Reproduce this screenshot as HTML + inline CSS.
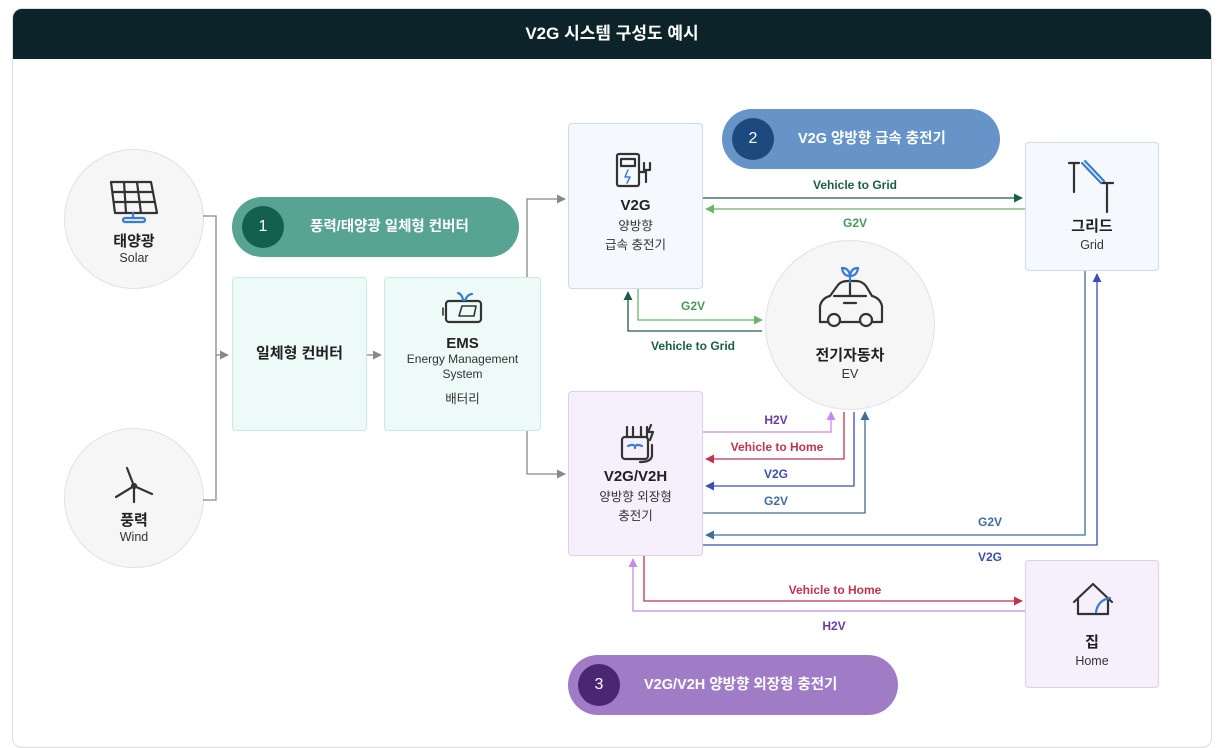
<!DOCTYPE html>
<html><head><meta charset="utf-8"><style>
*{margin:0;padding:0;box-sizing:border-box}
body{width:1227px;height:730px;background:#fff;font-family:"Liberation Sans","Noto Sans CJK KR",sans-serif;position:relative;overflow:hidden;color:#222}
.card{position:absolute;left:12px;top:8px;width:1200px;height:740px;border:1px solid #ddd;border-radius:10px;overflow:hidden}
.hd{position:absolute;left:0;top:0;width:100%;height:50px;background:#0c2329;color:#fff;font-size:17px;font-weight:bold;text-align:center;line-height:50px}
.c{position:absolute;border-radius:50%;background:#f6f6f6;border:1px solid #e2e2e2;text-align:center}
.b{position:absolute;border-radius:4px;text-align:center}
.t{font-size:15px;font-weight:bold;color:#222}
.s{font-size:12.5px;color:#333}
.pill{position:absolute;height:60px;border-radius:30px;color:#fff;font-size:14.5px;font-weight:bold;line-height:60px}
.pill i{position:absolute;left:10px;top:9px;width:42px;height:42px;border-radius:50%;font-style:normal;text-align:center;line-height:42px;font-size:16px;font-weight:normal}
svg{position:absolute;left:0;top:0}
.l{font-size:12px;font-weight:bold;font-family:"Liberation Sans","Noto Sans CJK KR",sans-serif;text-anchor:middle}
</style></head><body>
<div class="card"><div class="hd">V2G 시스템 구성도 예시</div></div>

<div class="c" style="left:64px;top:149px;width:140px;height:140px"><div style="height:80px"></div><div class="t">태양광</div><div class="s">Solar</div></div>
<div class="c" style="left:64px;top:428px;width:140px;height:140px"><div style="height:80px"></div><div class="t">풍력</div><div class="s">Wind</div></div>

<div class="pill" style="left:232px;top:197px;width:287px;background:#56a491"><i style="background:#13604e">1</i><span style="position:absolute;left:78px">풍력/태양광 일체형 컨버터</span></div>
<div class="pill" style="left:722px;top:109px;width:278px;background:#6694c8"><i style="background:#1d4a7e">2</i><span style="position:absolute;left:76px">V2G 양방향 급속 충전기</span></div>
<div class="pill" style="left:568px;top:655px;width:330px;background:#a17cc6"><i style="background:#4a2770">3</i><span style="position:absolute;left:76px">V2G/V2H 양방향 외장형 충전기</span></div>

<div class="b" style="left:232px;top:277px;width:135px;height:154px;background:#eefaf7;border:1px solid #c6ebe2"><div class="t" style="margin-top:64px">일체형 컨버터</div></div>
<div class="b" style="left:384px;top:277px;width:157px;height:154px;background:#eefaf7;border:1px solid #c6ebe2"><div style="height:57px"></div><div class="t">EMS</div><div class="s" style="font-size:12px;line-height:15px">Energy Management<br>System</div><div class="s" style="margin-top:6px">배터리</div></div>
<div class="b" style="left:568px;top:123px;width:135px;height:166px;background:#f5f8fd;border:1px solid #c9dcf0"><div style="height:73px"></div><div class="t">V2G</div><div class="s" style="line-height:19px;margin-top:3px">양방향<br>급속 충전기</div></div>
<div class="b" style="left:1025px;top:142px;width:134px;height:129px;background:#f5f8fd;border:1px solid #c9dcf0"><div style="height:72px"></div><div class="t">그리드</div><div class="s" style="margin-top:2px">Grid</div></div>
<div class="c" style="left:765px;top:240px;width:170px;height:170px"><div style="height:103px"></div><div class="t">전기자동차</div><div class="s" style="margin-top:2px">EV</div></div>
<div class="b" style="left:568px;top:391px;width:135px;height:165px;background:#f6f0fc;border:1px solid #e0cdf3"><div style="height:76px"></div><div class="t">V2G/V2H</div><div class="s" style="line-height:19px;margin-top:3px">양방향 외장형<br>충전기</div></div>
<div class="b" style="left:1025px;top:560px;width:134px;height:128px;background:#f6f0fc;border:1px solid #e0cdf3"><div style="height:70px"></div><div class="t">집</div><div class="s" style="margin-top:2px">Home</div></div>

<svg width="1227" height="730" viewBox="0 0 1227 730">
<defs>
<marker id="a" viewBox="0 0 10 10" refX="9" refY="5" markerWidth="7" markerHeight="7" orient="auto-start-reverse"><path d="M0,0L10,5L0,10z" fill="context-stroke"/></marker>
</defs>
<g fill="none" stroke-width="1.3">
<path d="M203,216H216V500H203M216,355H228" stroke="#888" marker-end="url(#a)"/>
<path d="M367,355H381" stroke="#888" marker-end="url(#a)"/>
<path d="M527,277V199H565" stroke="#888" marker-end="url(#a)"/>
<path d="M527,431V474H565" stroke="#888" marker-end="url(#a)"/>
<path d="M703,198H1022" stroke="#1b5e45" marker-end="url(#a)"/>
<path d="M1025,209H706" stroke="#6ab56a" marker-end="url(#a)"/>
<path d="M638,289V320H762" stroke="#6ab56a" marker-end="url(#a)"/>
<path d="M762,331H628V292" stroke="#1b5e45" marker-end="url(#a)"/>
<path d="M703,432H831V412" stroke="#c58be8" marker-end="url(#a)"/>
<path d="M844,412V459H706" stroke="#c0344f" marker-end="url(#a)"/>
<path d="M854,412V486H706" stroke="#3a4fb0" marker-end="url(#a)"/>
<path d="M703,513H865V412" stroke="#3e6f95" marker-end="url(#a)"/>
<path d="M1085,271V535H706" stroke="#3e6f95" marker-end="url(#a)"/>
<path d="M703,545H1097V274" stroke="#3a4fb0" marker-end="url(#a)"/>
<path d="M644,556V601H1022" stroke="#c0344f" marker-end="url(#a)"/>
<path d="M1025,611H633V559" stroke="#c58be8" marker-end="url(#a)"/>
</g>
<text class="l" x="855" y="189" fill="#1b5e45">Vehicle to Grid</text>
<text class="l" x="855" y="227" fill="#4a9a5a">G2V</text>
<text class="l" x="693" y="310" fill="#4a9a5a">G2V</text>
<text class="l" x="693" y="350" fill="#1b5e45">Vehicle to Grid</text>
<text class="l" x="776" y="424" fill="#6b3aa0">H2V</text>
<text class="l" x="777" y="451" fill="#c0344f">Vehicle to Home</text>
<text class="l" x="776" y="478" fill="#3a4fb0">V2G</text>
<text class="l" x="776" y="505" fill="#3e6f95">G2V</text>
<text class="l" x="990" y="526" fill="#3e6f95">G2V</text>
<text class="l" x="990" y="561" fill="#3a4fb0">V2G</text>
<text class="l" x="835" y="594" fill="#c0344f">Vehicle to Home</text>
<text class="l" x="834" y="630" fill="#6b3aa0">H2V</text>
<!-- icons -->
<g fill="none" stroke="#333" stroke-width="2.2" stroke-linecap="round" stroke-linejoin="round">
<path d="M111,182H151L157,213H115Z M124,182L126,213 M137,182L141,213 M113,192H153 M114,202H155"/>
<path d="M133,213V218" stroke="#3a7bd5"/><rect x="123" y="218" width="22" height="4" rx="2" stroke="#3a7bd5"/>
<path d="M134,486V502 M134,486L127,468 M134,486L152,494 M134,486L116,497"/><circle cx="134" cy="486" r="2"/>
<rect x="446" y="301" width="35" height="21" rx="3"/><path d="M443,308V315M459,316L462,306H476L474,316Z" stroke-width="1.6"/>
<path d="M463,300Q462,294 458,293M465,300Q468,294 472,294" stroke="#3a7bd5"/>
<rect x="617" y="154" width="22" height="32" rx="2"/><rect x="621" y="159" width="14" height="7"/><path d="M640,172H646V182M644,163V170h6V163"/>
<path d="M628,170L625,177H630L627,183" stroke="#3a7bd5" stroke-width="1.5"/>
<path d="M1069,163H1079M1074,163V192M1101,183H1113M1107,183V212"/><path d="M1082,163L1101,183M1085,161L1104,181" stroke="#3a7bd5"/>
<path d="M820,322V306Q822,298 830,296L838,285Q841,281 848,281H856Q862,281 866,286L872,296Q880,298 882,306V322H820Z"/>
<path d="M834,296H866M850,283V296M844,303H856"/>
<circle cx="834" cy="320" r="6" fill="#f6f6f6"/><circle cx="866" cy="320" r="6" fill="#f6f6f6"/>
<path d="M850,282V276M850,276Q843,276 842,268Q849,268 850,276M850,276Q857,276 858,268Q851,268 850,276" stroke="#3a7bd5"/>
<rect x="622" y="437" width="26" height="22" rx="3"/><path d="M627,427V437M633,427V437M641,427V437M647,427V437M651,425L648,432H653L650,440M652,445V455Q652,462 640,462"/>
<path d="M628,446Q635,443 635,448Q635,443 642,446" stroke="#3a7bd5"/>
<path d="M1074,602L1093,584L1112,602M1078,598V614H1108V598"/><path d="M1096,612Q1098,600 1110,598" stroke="#3a7bd5"/>
</g>
</svg>
</body></html>
